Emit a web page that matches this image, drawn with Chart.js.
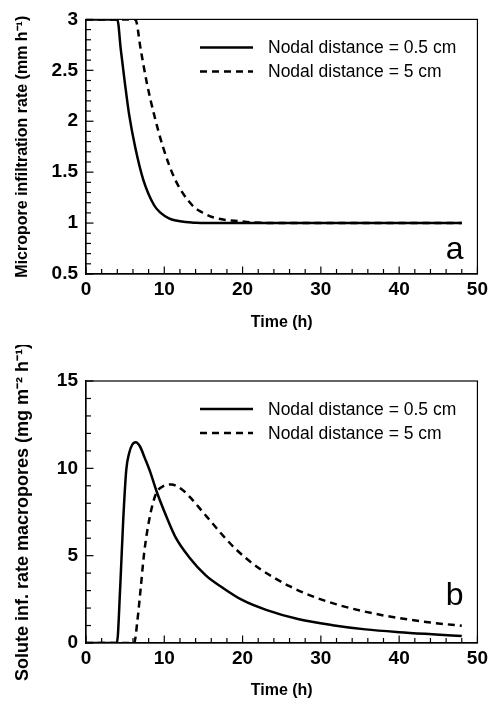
<!DOCTYPE html>
<html>
<head>
<meta charset="utf-8">
<script src="https://cdn.jsdelivr.net/npm/chart.js@4.4.1/dist/chart.umd.min.js"></script>
<style>
  body { margin: 0; background: #fff; }
  .panel { position: absolute; left: 0; }
</style>
</head>
<body>
<div class="panel" style="top:0"><canvas id="micro" width="492" height="345"></canvas></div>
<div class="panel" style="top:345px"><canvas id="solute" width="492" height="359"></canvas></div>
<script>
const seriesLabels = ["Nodal distance = 0.5 cm", "Nodal distance = 5 cm"];

// panel a: micropore infiltration rate (mm h-1)
const timeMicroFine = [0, 4.0, 4.45, 4.96, 5.51, 6.28, 7.3, 8.7, 9.5, 10.6, 11.5, 12.7, 14, 15, 20, 30, 40, 48];
const rateMicroFine = [3, 3, 2.70, 2.38, 2.065, 1.747, 1.43, 1.175, 1.103, 1.047, 1.025, 1.01, 1.003, 1.0, 1.0, 1.0, 1.0, 1.0];
const timeMicroCoarse = [0, 6.3, 7.0, 7.76, 8.7, 9.84, 11.37, 13.57, 14.8, 16.1, 17.5, 19.6, 21, 24, 30, 40, 48];
const rateMicroCoarse = [3, 3, 2.70, 2.38, 2.065, 1.747, 1.43, 1.175, 1.106, 1.06, 1.035, 1.018, 1.008, 1.0, 1.0, 1.0, 1.0];

// panel b: solute infiltration rate into macropores (mg m-2 h-1)
const timeSoluteFine = [0, 3.95, 4.37, 4.75, 5.14, 5.5, 5.9, 6.36, 6.9, 7.5, 8.2, 9.0, 10.4, 11.5, 13.2, 15.3, 17.5, 20, 23, 27.2, 31.5, 35.7, 40, 44.2, 48];
const rateSoluteFine = [0, 0, 3.2, 7.0, 9.9, 10.85, 11.35, 11.5, 11.25, 10.6, 9.8, 8.7, 7.1, 6.0, 4.9, 3.87, 3.15, 2.45, 1.9, 1.36, 1.02, 0.78, 0.62, 0.5, 0.4];
const timeSoluteCoarse = [0, 6.15, 6.57, 7.0, 7.42, 8.06, 8.9, 9.75, 10.9, 12.38, 13.65, 14.92, 16.2, 17.47, 18.96, 20.45, 22.14, 24, 26, 28, 30, 32, 35, 38, 41, 44, 48];
const rateSoluteCoarse = [0, 0, 1.3, 3.2, 5.12, 7.02, 8.5, 8.95, 9.08, 8.74, 8.17, 7.5, 6.83, 6.16, 5.45, 4.85, 4.27, 3.74, 3.25, 2.84, 2.5, 2.21, 1.86, 1.58, 1.36, 1.17, 0.99];

const xTickLabels = [0, 10, 20, 30, 40, 50];
const yTickLabelsMicro = [0.5, 1, 1.5, 2, 2.5, 3];
const yTickLabelsSolute = [0, 5, 10, 15];

const FONT = "'Liberation Sans', Arial, Helvetica, sans-serif";
const DASH = [7, 5];

const isIn = (list, v) => list.some((t) => Math.abs(t - v) < 1e-6);
const toPoints = (xs, ys) => xs.map((x, i) => ({ x: x, y: ys[i] }));

// box round the plot, inward tick marks, legend and panel letter
const decorate = {
  id: "decorate",
  afterDraw(chart, args, opts) {
    const { ctx, chartArea: a, scales } = chart;
    ctx.save();
    ctx.setLineDash([]);
    ctx.strokeStyle = "#000";
    ctx.lineWidth = 1.2;
    ctx.strokeRect(a.left, a.top, a.right - a.left, a.bottom - a.top);

    const xs = scales.x;
    const ys = scales.y;
    xs.ticks.forEach((t) => {
      const px = xs.getPixelForValue(t.value);
      const len = isIn(xTickLabels, t.value) ? 7.5 : 5;
      ctx.beginPath();
      ctx.moveTo(px, a.bottom);
      ctx.lineTo(px, a.bottom - len);
      ctx.stroke();
    });
    ys.ticks.forEach((t) => {
      const py = ys.getPixelForValue(t.value);
      const len = isIn(opts.yMajor, t.value) ? 7.5 : 5;
      ctx.beginPath();
      ctx.moveTo(a.left, py);
      ctx.lineTo(a.left + len, py);
      ctx.stroke();
    });

    // legend
    ctx.font = "17.5px " + FONT;
    ctx.textBaseline = "middle";
    ctx.fillStyle = "#000";
    chart.data.datasets.forEach((ds, i) => {
      const y = a.top + 28 + i * 24;
      ctx.lineWidth = ds.borderWidth;
      ctx.setLineDash(ds.borderDash || []);
      ctx.beginPath();
      ctx.moveTo(a.left + 114, y);
      ctx.lineTo(a.left + 167, y);
      ctx.stroke();
      ctx.setLineDash([]);
      ctx.fillText(ds.label, a.left + 182, y + 1);
    });

    // panel letter
    ctx.font = "32px " + FONT;
    ctx.textAlign = "right";
    ctx.textBaseline = "alphabetic";
    ctx.fillText(opts.letter, a.right - 14, a.bottom - opts.letterLift);
    ctx.restore();
  },
};

const makeChart = (canvasId, fine, coarse, yOpts) => {
  return new Chart(document.getElementById(canvasId), {
    type: "scatter",
    data: {
      datasets: [
        {
          label: seriesLabels[0],
          data: fine,
          showLine: true,
          borderColor: "#000",
          borderWidth: 2.5,
          pointRadius: 0,
          cubicInterpolationMode: "monotone",
        },
        {
          label: seriesLabels[1],
          data: coarse,
          showLine: true,
          borderColor: "#000",
          borderWidth: 2.5,
          borderDash: DASH,
          pointRadius: 0,
          cubicInterpolationMode: "monotone",
        },
      ],
    },
    options: {
      responsive: false,
      animation: false,
      devicePixelRatio: 1,
      layout: { padding: { top: yOpts.padTop, right: 13, left: 0, bottom: 0 } },
      plugins: {
        legend: { display: false },
        tooltip: { enabled: false },
        decorate: {
          letter: yOpts.letter,
          letterLift: yOpts.letterLift,
          yMajor: yOpts.labels,
        },
      },
      scales: {
        x: {
          type: "linear",
          min: 0,
          max: 50,
          afterFit: (s) => { s.height = yOpts.xHeight; },
          grid: { drawOnChartArea: false, drawTicks: false },
          border: { display: true, color: "#000", width: 1.2 },
          ticks: {
            stepSize: 2,
            autoSkip: false,
            maxRotation: 0,
            padding: 4,
            color: "#000",
            font: { family: FONT, size: 19, weight: "bold" },
            callback: (v) => (isIn(xTickLabels, v) ? String(v) : ""),
          },
          title: {
            display: true,
            text: "Time (h)",
            color: "#000",
            font: { family: FONT, size: 16, weight: "bold" },
            padding: { top: 0, bottom: yOpts.titleBottom },
          },
        },
        y: {
          type: "linear",
          min: yOpts.min,
          max: yOpts.max,
          afterFit: (s) => { s.width = 86; },
          grid: { drawOnChartArea: false, drawTicks: false },
          border: { display: true, color: "#000", width: 1.2 },
          ticks: {
            stepSize: yOpts.step,
            autoSkip: false,
            padding: 8,
            color: "#000",
            font: { family: FONT, size: 19, weight: "bold" },
            callback: (v) => (isIn(yOpts.labels, v) ? String(Math.round(v * 10) / 10) : ""),
          },
          title: {
            display: true,
            text: yOpts.title,
            color: "#000",
            font: { family: FONT, size: yOpts.titleSize, weight: "bold" },
            padding: { top: yOpts.titleLeft, bottom: 0 },
          },
        },
      },
    },
    plugins: [decorate],
  });
};

makeChart("micro", toPoints(timeMicroFine, rateMicroFine), toPoints(timeMicroCoarse, rateMicroCoarse), {
  min: 0.5,
  max: 3,
  step: 0.1,
  labels: yTickLabelsMicro,
  title: "Micropore infiltration rate (mm h\u207B\u00B9)",
  titleSize: 16,
  titleLeft: 13,
  letter: "a",
  letterLift: 15,
  padTop: 12,
  xHeight: 71,
  titleBottom: 13,
});

makeChart("solute", toPoints(timeSoluteFine, rateSoluteFine), toPoints(timeSoluteCoarse, rateSoluteCoarse), {
  min: 0,
  max: 15,
  step: 1,
  labels: yTickLabelsSolute,
  title: "Solute inf. rate macropores (mg m\u207B\u00B2 h\u207B\u00B9)",
  titleSize: 18,
  titleLeft: 12,
  letter: "b",
  letterLift: 38,
  padTop: 36,
  xHeight: 61,
  titleBottom: 4,
});
</script>
</body>
</html>
